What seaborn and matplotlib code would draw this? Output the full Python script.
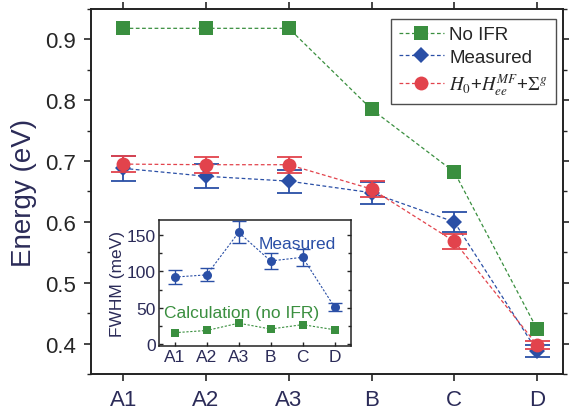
import numpy as np
import pandas as pd
import matplotlib
matplotlib.use("Agg")
import matplotlib.pyplot as plt
import seaborn as sns

# --- data ---
labels = ["A1", "A2", "A3", "B", "C", "D"]
no_ifr = [0.918, 0.918, 0.918, 0.785, 0.682, 0.424]
measured = [0.688, 0.675, 0.667, 0.648, 0.600, 0.388]
measured_err = [0.020, 0.020, 0.019, 0.018, 0.017, 0.010]
calc = [0.695, 0.694, 0.694, 0.654, 0.568, 0.398]
calc_err = [0.013, 0.013, 0.013, 0.013, 0.012, 0.006]

fwhm_meas = [92, 95, 153, 114, 119, 51]
fwhm_meas_err = [9, 9, 15, 11, 12, 5]
fwhm_calc = [16, 19, 29, 21, 27, 20]

GREEN = "#3a8f3f"
BLUE = "#2a4fa6"
RED = "#e2434c"
NAVY = "#2b2b58"

sns.set_theme(style="ticks")
plt.rcParams["font.family"] = ["Liberation Sans", "DejaVu Sans"]
plt.rcParams["mathtext.fontset"] = "stix"

pos = np.arange(len(labels))
df = pd.DataFrame({"x": pos, "no_ifr": no_ifr, "meas": measured, "calc": calc,
                   "fw_m": fwhm_meas, "fw_c": fwhm_calc})

fig = plt.figure(figsize=(5.69, 4.10), dpi=100)
ax = fig.add_axes([0.160, 0.085, 0.829, 0.891])

sns.lineplot(data=df, x="x", y="no_ifr", ax=ax, color=GREEN, linestyle=(0, (3, 2)),
             linewidth=0.9, marker="s", markersize=9.5, markeredgewidth=0,
             label="No IFR", zorder=3)
ax.errorbar(pos, measured, yerr=measured_err, fmt="none", ecolor=BLUE,
            elinewidth=1.3, capsize=9, capthick=1.3, zorder=4)
sns.lineplot(data=df, x="x", y="meas", ax=ax, color=BLUE, linestyle=(0, (3, 2)),
             linewidth=0.9, marker="D", markersize=8.5, markeredgewidth=0,
             label="Measured", zorder=4)
ax.errorbar(pos, calc, yerr=calc_err, fmt="none", ecolor=RED,
            elinewidth=1.3, capsize=9, capthick=1.3, zorder=5)
sns.lineplot(data=df, x="x", y="calc", ax=ax, color=RED, linestyle=(0, (3, 2)),
             linewidth=0.9, marker="o", markersize=10, markeredgewidth=0,
             label=r"$H_0$+$H_{ee}^{MF}$+$\Sigma^g$", zorder=5)

ax.set_xlim(-0.39, 5.31)
ax.set_ylim(0.35, 0.95)
ax.set_xticks(pos)
ax.set_xticklabels(labels, color=NAVY)
ax.set_yticks([0.4, 0.5, 0.6, 0.7, 0.8, 0.9])
ax.set_yticks(np.arange(0.35, 0.951, 0.05), minor=True)
ax.set_xlabel("")
ax.set_ylabel("Energy (eV)", fontsize=20, color=NAVY, labelpad=6)
ax.tick_params(axis="both", which="major", labelsize=16, direction="out",
               length=5, width=1.2, pad=6)
ax.tick_params(axis="y", which="minor", direction="out", length=3, width=1)
ax.tick_params(top=True, right=True, which="both")
for s in ax.spines.values():
    s.set_linewidth(1.4)
    s.set_color("#222222")

leg = ax.legend(loc="upper right", fontsize=13.5, frameon=True, fancybox=False,
                edgecolor="#222222", borderpad=0.4, handlelength=2.4,
                handletextpad=0.3, labelspacing=0.28, borderaxespad=0,
                bbox_to_anchor=(0.985, 0.973))
leg.get_frame().set_linewidth(1.0)

# --- inset: FWHM ---
ins = fig.add_axes([0.279, 0.154, 0.337, 0.307])
ins.errorbar(pos, fwhm_meas, yerr=fwhm_meas_err, fmt="none", ecolor=BLUE,
             elinewidth=1.0, capsize=5, capthick=1.0, zorder=4)
sns.lineplot(data=df, x="x", y="fw_m", ax=ins, color=BLUE, linestyle=(0, (2, 1.5)),
             linewidth=0.8, marker="o", markersize=6.5, markeredgewidth=0, zorder=4)
sns.lineplot(data=df, x="x", y="fw_c", ax=ins, color=GREEN, linestyle=(0, (2, 1.5)),
             linewidth=0.8, marker="s", markersize=6, markeredgewidth=0, zorder=3)
ins.set_xlim(-0.5, 5.5)
ins.set_ylim(-2, 170)
ins.set_xticks(pos)
ins.set_xticklabels(labels, color=NAVY)
ins.set_yticks([0, 50, 100, 150])
ins.set_yticks([25, 75, 125], minor=True)
ins.set_xlabel("")
ins.set_ylabel("FWHM (meV)", fontsize=12.5, color=NAVY, labelpad=1)
ins.tick_params(axis="both", which="major", labelsize=12.5, direction="in",
                length=3, width=1, pad=2, labelcolor=NAVY)
ins.tick_params(axis="y", which="minor", direction="in", length=2)
ins.tick_params(right=True, which="both")
ins.text(5.03, 132, "Measured", color=BLUE, fontsize=12.5, ha="right")
ins.text(2.1, 38, "Calculation (no IFR)", color=GREEN, fontsize=12.5, ha="center")
for s in ins.spines.values():
    s.set_linewidth(1.1)
    s.set_color("#222222")

fig.savefig("out.png", dpi=100)
